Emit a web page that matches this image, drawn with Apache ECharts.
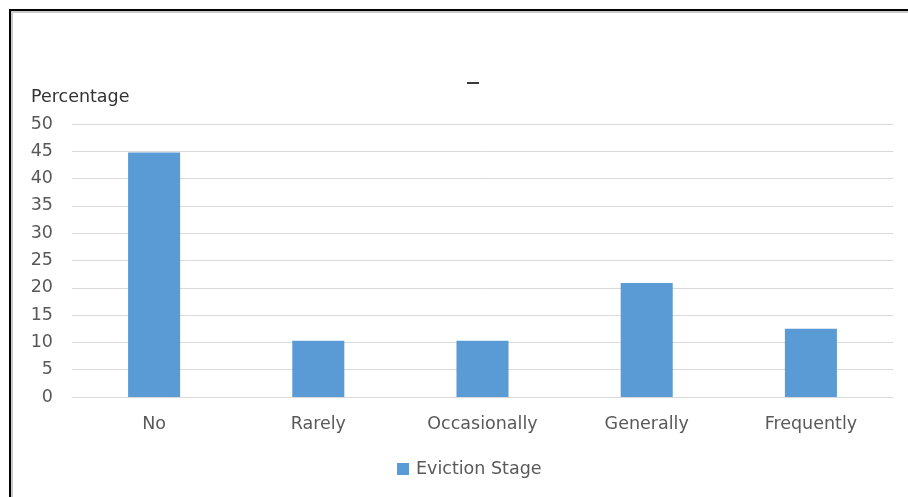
<!DOCTYPE html>
<html>
<head>
<meta charset="utf-8">
<title>Eviction Stage</title>
<script src="https://cdn.jsdelivr.net/npm/echarts@6/dist/echarts.min.js"></script>
<style>
  html, body { margin: 0; padding: 0; background: #ffffff; overflow: hidden; }
  #wrap { position: relative; width: 908px; height: 497px; overflow: hidden; }
  #frame {
    position: absolute; left: 9px; top: 9px; width: 920px; height: 520px;
    border-top: 2px solid #000; border-left: 2px solid #000;
    box-shadow: inset 2px 2px 0 #c9c9c9;
    pointer-events: none; z-index: 2;
  }
  #chart { position: absolute; left: 0; top: 0; width: 908px; height: 497px; }
</style>
</head>
<body>
<div id="wrap">
  <div id="chart"></div>
  <div id="frame"></div>
</div>
<script>
// Survey responses, share of respondents in each frequency band
const categories = ['No', 'Rarely', 'Occasionally', 'Generally', 'Frequently'];
const evictionStage = [44.8, 10.3, 10.3, 20.9, 12.5];
const seriesName = 'Eviction Stage';
const axisTitle = 'Percentage';

const FONT = '"DejaVu Sans", "Liberation Sans", sans-serif';
const chart = echarts.init(document.getElementById('chart'), null, { renderer: 'canvas' });

chart.setOption({
  animation: false,
  backgroundColor: '#ffffff',
  title: {
    text: axisTitle,
    left: 31,
    top: 88,
    padding: 0,
    textStyle: { fontFamily: FONT, fontSize: 17.5, fontWeight: 'normal', color: '#333333' }
  },
  graphic: [
    { type: 'rect', left: 467, top: 82, shape: { width: 12, height: 2 }, style: { fill: '#3a3a3a' } }
  ],
  legend: {
    data: [seriesName],
    left: 392,
    top: 455,
    icon: 'rect',
    itemWidth: 12,
    itemHeight: 12,
    itemGap: 6,
    textStyle: { fontFamily: FONT, fontSize: 17.5, color: '#595959', padding: [0, 0, 0, 2] }
  },
  grid: { left: 72, right: 15, top: 124, bottom: 100, containLabel: false },
  xAxis: {
    type: 'category',
    data: categories,
    axisTick: { show: false },
    axisLine: { lineStyle: { color: '#d9d9d9', width: 1 } },
    axisLabel: { fontFamily: FONT, fontSize: 17.5, color: '#595959', margin: 18 }
  },
  yAxis: {
    type: 'value',
    min: 0,
    max: 50,
    interval: 5,
    axisLine: { show: false },
    axisTick: { show: false },
    splitLine: { lineStyle: { color: '#d9d9d9', width: 1 } },
    axisLabel: { fontFamily: FONT, fontSize: 17.5, color: '#595959', margin: 19 }
  },
  series: [{
    name: seriesName,
    type: 'bar',
    data: evictionStage,
    barWidth: '31.7%',
    itemStyle: { color: '#5b9bd5' }
  }]
});
</script>
</body>
</html>
